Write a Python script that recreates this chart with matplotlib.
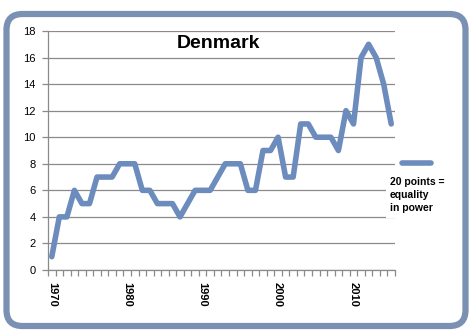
import matplotlib
matplotlib.use("Agg")
import matplotlib.pyplot as plt
from matplotlib.patches import FancyBboxPatch
from matplotlib.lines import Line2D
import numpy as np

plt.rcParams['font.family'] = ['Liberation Sans', 'DejaVu Sans']

years = list(range(1970, 2016))
values = [1, 4, 4, 6, 5, 5, 7, 7, 7, 8, 8, 8, 6, 6, 5, 5, 5, 4, 5, 6,
          6, 6, 7, 8, 8, 8, 6, 6, 9, 9, 10, 7, 7, 11, 11, 10, 10, 10, 9, 12,
          11, 16, 17, 16, 14, 11]
label_years = [1970, 1980, 1990, 2000, 2010]
yticks = [0, 2, 4, 6, 8, 10, 12, 14, 16, 18]
title = "Denmark"
legend_text = "20 points =\nequality\nin power"

line_color = "#6b8cbd"
border_color = "#7a91b3"
grid_color = "#8a8a8a"

fig = plt.figure(figsize=(4.76, 3.35), dpi=100)
fig.patch.set_facecolor("white")

# rounded border
border = FancyBboxPatch((0.065, 0.09), 4.59, 3.12,
                        boxstyle="round,pad=0,rounding_size=0.16",
                        transform=fig.dpi_scale_trans, facecolor="none",
                        edgecolor=border_color, linewidth=4.5, zorder=0)
fig.patches.append(border)

ax = fig.add_axes([48/476, 1-270/335, (395-48)/476, (270-31)/335])
x = np.arange(len(years))
ax.plot(x, values, color=line_color, lw=4, solid_joinstyle="round",
        solid_capstyle="round", zorder=3)

ax.set_xlim(-0.5, len(years) - 0.5)
ax.set_ylim(0, 18)
ax.set_yticks(yticks)
ax.set_yticklabels([str(v) for v in yticks])
ax.yaxis.grid(True, color=grid_color, lw=0.9)
ax.set_axisbelow(True)

ax.set_xticks([years.index(y) for y in label_years])
ax.set_xticklabels([str(y) for y in label_years], rotation=270,
                   fontweight="bold", fontsize=8, va="top", ha="center")
ax.set_xticks(np.arange(-0.5, len(years)), minor=True)
ax.tick_params(axis="x", which="major", length=0, pad=9)
ax.tick_params(axis="x", which="minor", length=4, color=grid_color, width=0.9)
ax.tick_params(axis="y", length=4, color=grid_color, width=0.9, labelsize=8, pad=5)

for s in ["top", "right"]:
    ax.spines[s].set_visible(False)
for s in ["left", "bottom"]:
    ax.spines[s].set_color(grid_color)
    ax.spines[s].set_linewidth(0.9)

fig.text(218/476, 1-43/335, title, fontsize=14, fontweight="bold",
         ha="center", va="center")

fig.add_artist(Line2D([402/476, 431/476], [1-163/335, 1-163/335],
                      color=line_color, lw=4, solid_capstyle="round"))
fig.text(390/476, 1-177/335, legend_text, fontsize=7.5, fontweight="bold",
         ha="left", va="top", linespacing=1.4,
         bbox=dict(facecolor="white", edgecolor="none", pad=3))

fig.savefig("out.png", dpi=100, facecolor="white")
